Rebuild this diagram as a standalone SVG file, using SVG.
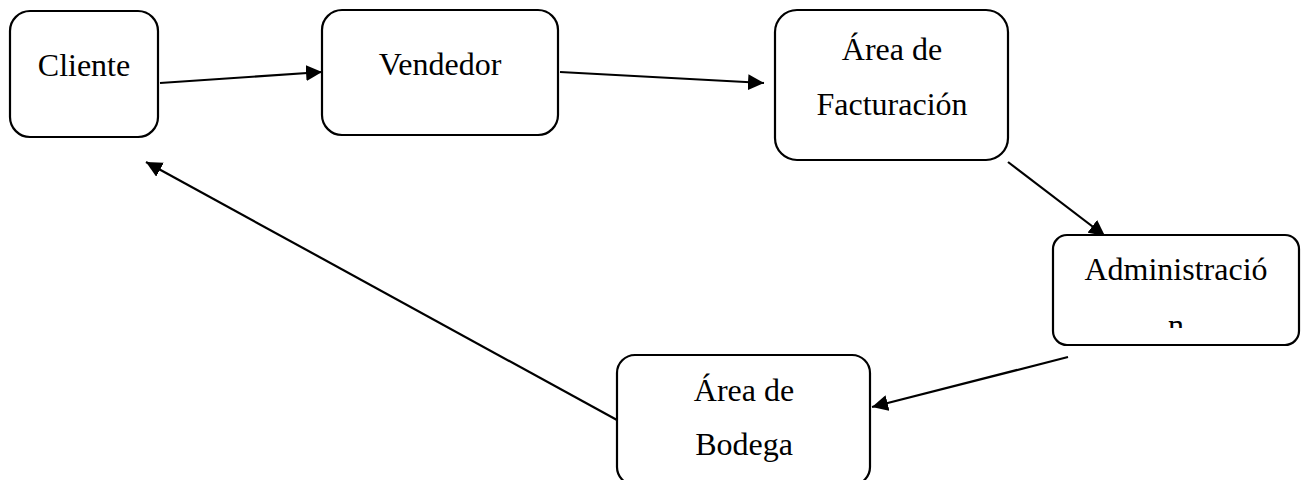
<svg xmlns="http://www.w3.org/2000/svg" width="1302" height="480" viewBox="0 0 1302 480">
<style>
.box{fill:#fff;stroke:#000;stroke-width:2.2}
.t{font-family:"Liberation Serif","Times New Roman",serif;font-size:32px;fill:#000;text-anchor:middle}
.c{stroke:#000;stroke-width:2.2;fill:none;marker-end:url(#ah)}
</style>
<defs>
<marker id="ah" markerUnits="userSpaceOnUse" markerWidth="18" markerHeight="16" refX="16" refY="8" orient="auto">
<path d="M0,0 L16,8 L0,16 Z" fill="#000"/>
</marker>
<clipPath id="admClip"><rect x="1053" y="236" width="246" height="92"/></clipPath>
</defs>
<rect width="1302" height="480" fill="#fff"/>
<g id="connectors">
<line class="c" x1="160" y1="83" x2="322" y2="72"/>
<line class="c" x1="560" y1="72" x2="764" y2="83"/>
<line class="c" x1="1008" y1="162" x2="1105" y2="236"/>
<line class="c" x1="1068" y1="357" x2="872" y2="407"/>
<line class="c" x1="617" y1="420" x2="146" y2="162"/>
</g>
<g id="cliente">
<rect class="box" x="10" y="11" width="148" height="126" rx="20"/>
<text class="t" x="84" y="76">Cliente</text>
</g>
<g id="vendedor">
<rect class="box" x="322" y="10" width="236" height="125" rx="20"/>
<text class="t" x="440" y="75">Vendedor</text>
</g>
<g id="facturacion">
<rect class="box" x="775" y="10" width="233" height="150" rx="22"/>
<text class="t" x="892" y="60">Área de</text>
<text class="t" x="892" y="115">Facturación</text>
</g>
<g id="administracion">
<rect class="box" x="1053" y="235" width="246" height="110" rx="14"/>
<g clip-path="url(#admClip)">
<text class="t" x="1176" y="280">Administració</text>
<text class="t" x="1176" y="336">n</text>
</g>
</g>
<g id="bodega">
<rect class="box" x="617" y="355" width="253" height="130" rx="18"/>
<text class="t" x="744" y="401">Área de</text>
<text class="t" x="744" y="455">Bodega</text>
</g>
</svg>
